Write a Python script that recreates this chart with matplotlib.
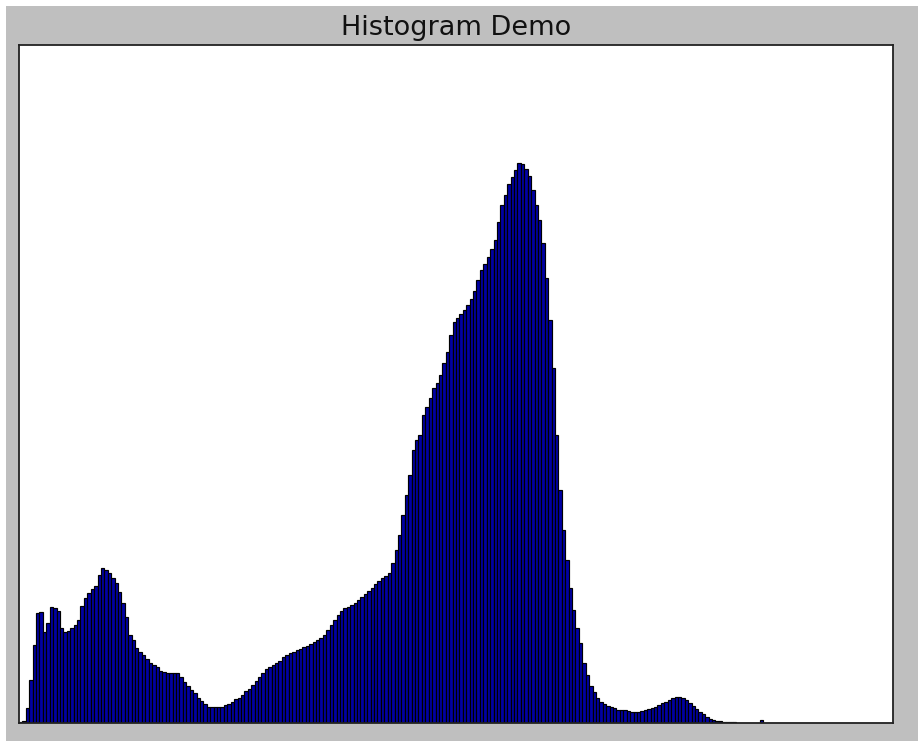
import matplotlib
matplotlib.use("Agg")
import matplotlib.pyplot as plt
from matplotlib.patches import Rectangle

# 256-bin intensity histogram, counts (arbitrary units)
counts = [
    1, 2, 15, 43, 78, 110, 111, 91, 100, 116,
    115, 112, 95, 91, 92, 95, 98, 103, 117, 125,
    130, 134, 137, 148, 155, 153, 150, 145, 140, 131,
    120, 106, 88, 83, 75, 71, 68, 64, 60, 58,
    56, 52, 51, 50, 50, 50, 50, 46, 41, 37,
    33, 30, 25, 22, 19, 16, 16, 16, 16, 16,
    18, 19, 21, 24, 25, 28, 32, 34, 38, 42,
    46, 50, 54, 56, 58, 60, 62, 66, 68, 70,
    71, 73, 74, 76, 77, 79, 81, 83, 85, 88,
    93, 98, 103, 108, 112, 115, 116, 118, 120, 123,
    126, 129, 132, 135, 139, 142, 145, 147, 150, 160,
    173, 188, 208, 228, 248, 273, 283, 288, 308, 316,
    325, 335, 340, 348, 360, 371, 388, 401, 405, 409,
    413, 418, 424, 432, 443, 453, 459, 466, 474, 483,
    501, 518, 528, 539, 546, 553, 560, 559, 554, 547,
    533, 518, 503, 480, 445, 403, 355, 288, 233, 193,
    163, 135, 113, 95, 80, 60, 48, 37, 31, 25,
    21, 19, 17, 16, 15, 13, 13, 13, 12, 11,
    11, 11, 12, 13, 14, 15, 16, 18, 20, 21,
    23, 25, 26, 26, 25, 23, 20, 17, 14, 11,
    9, 6, 4, 3, 2, 2, 1, 1, 1, 1,
    0, 0, 0, 0, 0, 0, 0, 3, 0, 0,
] + [0] * 36
bins = list(range(len(counts)))

fig = plt.figure(figsize=(9.18, 7.41), dpi=100, facecolor="white")
# grey window area (white strip on top and left like the screenshot)
fig.patches.append(Rectangle((6 / 918, 0), 1, 735 / 741, transform=fig.transFigure,
                             facecolor="#bfbfbf", edgecolor="none", zorder=-10))

ax = fig.add_axes([19 / 918, 18 / 741, 874 / 918, 678 / 741])
ax.bar(bins, counts, width=1.0, align="edge", color="#0000a4",
       edgecolor="black", linewidth=0.85)
ax.set_xlim(0, 256)
ax.set_ylim(0, 678)
ax.set_xticks([])
ax.set_yticks([])
for s in ax.spines.values():
    s.set_linewidth(1.3)
    s.set_color("#222222")
ax.set_title("Histogram Demo", fontsize=19.5, pad=7, color="#111111")

fig.savefig("out.png", dpi=100, facecolor=fig.get_facecolor())
